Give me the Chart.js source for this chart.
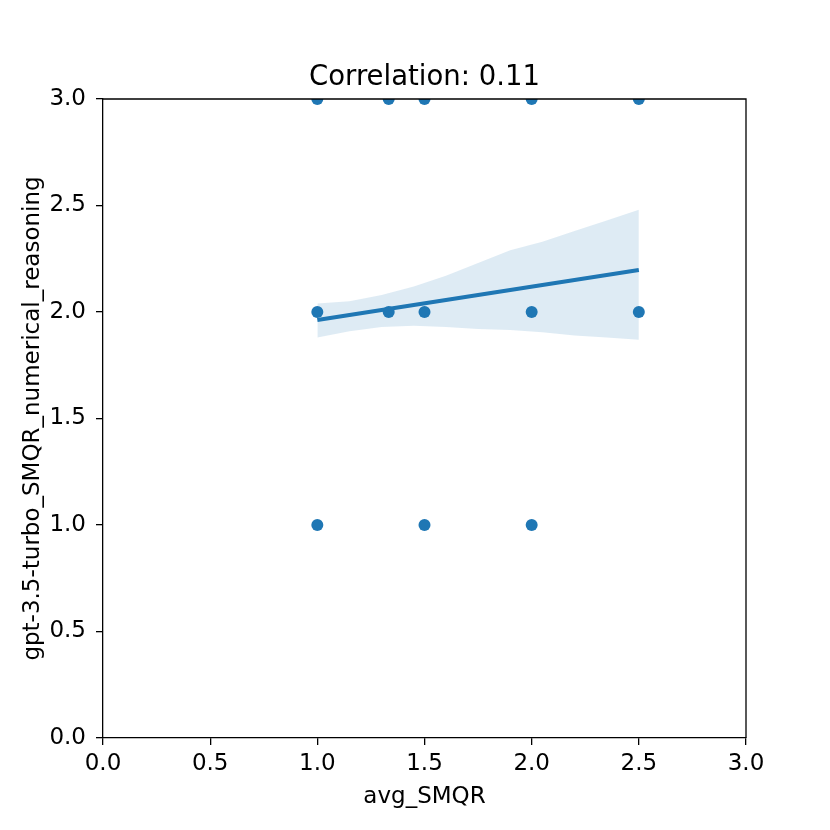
<!DOCTYPE html>
<html>
<head>
<meta charset="utf-8">
<script src="https://cdn.jsdelivr.net/npm/chart.js@4"></script>
<style>
html,body{margin:0;padding:0;background:#fff;}
#wrap{width:830px;height:830px;position:relative;}
</style>
</head>
<body>
<div id="wrap"><canvas id="c"></canvas></div>
<script>
const chartTitle = "Correlation: 0.11";
const xLabel = "avg_SMQR";
const yLabel = "gpt-3.5-turbo_SMQR_numerical_reasoning";
const pointX = [1.0, 1.333, 1.5, 2.0, 2.5, 1.0, 1.333, 1.5, 2.0, 2.5, 1.0, 1.5, 2.0];
const pointY = [3, 3, 3, 3, 3, 2, 2, 2, 2, 2, 1, 1, 1];
const fitX = [1.0, 2.5];
const fitY = [1.962, 2.197];
const bandX = [1.0, 1.15, 1.3, 1.45, 1.6, 1.75, 1.9, 2.05, 2.2, 2.35, 2.5];
const bandUpper = [2.04, 2.05, 2.08, 2.12, 2.17, 2.23, 2.29, 2.33, 2.38, 2.43, 2.48];
const bandLower = [1.88, 1.91, 1.93, 1.935, 1.93, 1.92, 1.915, 1.905, 1.89, 1.88, 1.87];
const tickValues = [0, 0.5, 1.0, 1.5, 2.0, 2.5, 3.0];

const BLUE = '#1f77b4';
const FONT = 'DejaVu Sans';

const clipPlugin = {
  id: 'hardClip',
  beforeDatasetDraw(chart) {
    const {ctx, chartArea: a} = chart;
    ctx.save();
    ctx.beginPath();
    ctx.rect(a.left, a.top, a.right - a.left, a.bottom - a.top);
    ctx.clip();
  },
  afterDatasetDraw(chart) {
    chart.ctx.restore();
  }
};

const titlePlugin = {
  id: 'mplTitle',
  afterDraw(chart) {
    const {ctx, chartArea} = chart;
    ctx.save();
    ctx.strokeStyle = '#000';
    ctx.lineWidth = 1.3;
    ctx.beginPath();
    ctx.moveTo(chartArea.left, chartArea.top);
    ctx.lineTo(chartArea.right, chartArea.top);
    ctx.lineTo(chartArea.right, chartArea.bottom);
    ctx.stroke();
    ctx.fillStyle = '#000';
    ctx.font = '27.5px "' + FONT + '"';
    ctx.textAlign = 'center';
    ctx.textBaseline = 'alphabetic';
    ctx.fillText(chartTitle, (chartArea.left + chartArea.right) / 2, 85);
    ctx.restore();
  }
};

const bandData = bandX.map((x, i) => ({x, y: bandUpper[i]}));
const bandLowData = bandX.map((x, i) => ({x, y: bandLower[i]}));

new Chart(document.getElementById('c'), {
  type: 'scatter',
  data: {
    datasets: [
      {
        type: 'line',
        data: bandLowData,
        borderWidth: 0,
        pointRadius: 0,
        fill: false,
        order: 5
      },
      {
        type: 'line',
        data: bandData,
        borderWidth: 0,
        pointRadius: 0,
        backgroundColor: 'rgba(31,119,180,0.15)',
        fill: '-1',
        order: 4
      },
      {
        type: 'scatter',
        data: pointX.map((x, i) => ({x, y: pointY[i]})),
        backgroundColor: BLUE,
        borderColor: BLUE,
        pointRadius: 6,
        borderWidth: 0,
        clip: 0,
        order: 2
      },
      {
        type: 'line',
        data: fitX.map((x, i) => ({x, y: fitY[i]})),
        borderColor: BLUE,
        borderWidth: 4,
        pointRadius: 0,
        fill: false,
        order: 1
      }
    ]
  },
  plugins: [clipPlugin, titlePlugin],
  options: {
    responsive: true,
    maintainAspectRatio: false,
    animation: false,
    devicePixelRatio: 1,
    layout: {padding: {top: 99, right: 84, left: 0, bottom: 0}},
    plugins: {legend: {display: false}, tooltip: {enabled: false}},
    scales: {
      x: {
        type: 'linear',
        min: 0, max: 3,
        afterFit: s => { s.height = 92; },
        afterBuildTicks: s => { s.ticks = tickValues.map(v => ({value: v})); },
        ticks: {
          color: '#000',
          font: {family: FONT, size: 23},
          padding: 5,
          callback: v => Number(v).toFixed(1)
        },
        grid: {drawOnChartArea: false, tickLength: 7, color: '#000', lineWidth: 1.3},
        border: {display: true, color: '#000', width: 1.3},
        title: {display: true, text: xLabel, color: '#000', font: {family: FONT, size: 23}, padding: {top: 0, bottom: 19}}
      },
      y: {
        type: 'linear',
        min: 0, max: 3,
        afterFit: s => { s.width = 103; },
        afterBuildTicks: s => { s.ticks = tickValues.map(v => ({value: v})); },
        ticks: {
          color: '#000',
          font: {family: FONT, size: 23},
          padding: 10,
          callback: v => Number(v).toFixed(1)
        },
        grid: {drawOnChartArea: false, tickLength: 7, color: '#000', lineWidth: 1.3},
        border: {display: true, color: '#000', width: 1.3},
        title: {display: true, text: yLabel, color: '#000', font: {family: FONT, size: 23}, padding: {top: 19, bottom: 0}}
      }
    }
  }
});
</script>
</body>
</html>
